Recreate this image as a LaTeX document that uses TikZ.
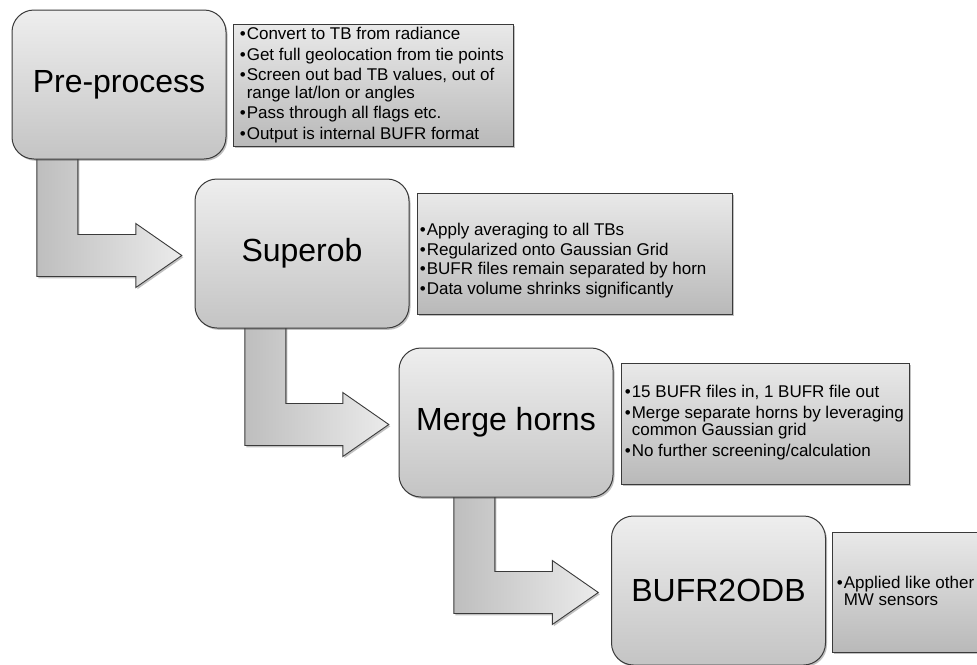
\documentclass[tikz,border=0pt]{standalone}
\usepackage{fontspec}
\setmainfont{Liberation Sans}
\usetikzlibrary{calc,shadows}
\definecolor{edge}{HTML}{3A3A3A}
\definecolor{boxtop}{HTML}{EEEEEE}
\definecolor{boxbot}{HTML}{C4C4C4}
\definecolor{notetop}{HTML}{E9E9E9}
\definecolor{notebot}{HTML}{B9B9B9}
\definecolor{arrl}{HTML}{BEBEBE}
\definecolor{arrr}{HTML}{EBEBEB}
\newcommand\bul{\makebox[7pt][l]{•}}
\tikzset{
  softshadow/.style={drop shadow={shadow xshift=1.5pt,shadow yshift=-1.8pt,opacity=0.35,fill=black!70}},
  stage/.style={draw=edge, line width=1pt, rounded corners=22pt,
    minimum width=214pt, minimum height=149pt, inner sep=0pt,
    top color=boxtop, bottom color=boxbot,
    font=\fontsize{32}{38}\selectfont, softshadow},
  note/.style={draw=edge, line width=0.8pt, inner sep=0pt,
    top color=notetop, bottom color=notebot, softshadow},
  notetext/.style={align=left, inner sep=0pt, anchor=west,
    font=\fontsize{17}{17.5}\selectfont},
  flowarr/.style={draw=edge, line width=0.9pt, left color=arrl, right color=arrr, softshadow}
}
% #1 from node, #2 to node, #3 shaft offset from left edge of #1, #4 gap before #2
\newcommand\flowarrow[4]{%
  \coordinate (#1#2a) at ($(#1.south west)+(#3,-3)$);
  \coordinate (#1#2t) at ($(#2.west)+(-#4,2)$);
  \path[flowarr] (#1#2a) -- ++(41,0)
    -- ($(#1#2a |- #1#2t)+(41,-21)$)
    -- ($(#1#2t)+(-46,-21)$)
    -- ($(#1#2t)+(-46,-32)$)
    -- (#1#2t)
    -- ($(#1#2t)+(-46,32)$)
    -- ($(#1#2t)+(-46,21)$)
    -- ($(#1#2a |- #1#2t)+(0,21)$) -- cycle;}
\begin{document}
\begin{tikzpicture}[x=1pt,y=-1pt]
\useasboundingbox (0,0) rectangle (977,664);
\clip (0,0) rectangle (977,664);
\fill[white] (0,0) rectangle (977,664);

\path (119,84.5) coordinate (c1) (302,253.5) coordinate (c2)
      (506,422.5) coordinate (c3) (718.5,590.5) coordinate (c4);

% placeholders used to route the arrows
\node[minimum width=214pt, minimum height=149pt, inner sep=0pt] (b1) at (c1) {};
\node[minimum width=214pt, minimum height=149pt, inner sep=0pt] (b2) at (c2) {};
\node[minimum width=214pt, minimum height=149pt, inner sep=0pt] (b3) at (c3) {};
\node[minimum width=214pt, minimum height=149pt, inner sep=0pt] (b4) at (c4) {};

\flowarrow{b1}{b2}{25}{13}
\flowarrow{b2}{b3}{50}{10}
\flowarrow{b3}{b4}{55}{13}

\node[stage] (s1) at (c1) {Pre-process};
\node[stage] (s2) at (c2) {Superob};
\node[stage] (s3) at (c3) {Merge horns};
\node[stage] (s4) at (c4) {BUFR2ODB};

% note boxes
\node[note, minimum width=280pt, minimum height=122pt] (t1) at (373,85) {};
\node[note, minimum width=315pt, minimum height=121pt] (t2) at (574.5,253.5) {};
\node[note, minimum width=288pt, minimum height=121pt] (t3) at (765,423.5) {};
\node[note, minimum width=180pt, minimum height=120pt] (t4) at (922,592) {};

\node[notetext] (x1) at ($(t1.west)+(7,0)$) {%
  \bul Convert to TB from radiance\\[3pt]
  \bul Get full geolocation from tie points\\[3pt]
  \bul Screen out bad TB values, out of\\
  \hspace*{7pt}range lat/lon or angles\\[3pt]
  \bul Pass through all flags etc.\\[3pt]
  \bul Output is internal BUFR format};
\node[notetext] (x2) at ($(t2.west)+(3,7)$) {%
  \bul Apply averaging to all TBs\\[2pt]
  \bul Regularized onto Gaussian Grid\\[2pt]
  \bul BUFR files remain separated by horn\\[2pt]
  \bul Data volume shrinks significantly};
\node[notetext] (x3) at ($(t3.west)+(4,-1)$) {%
  \bul 15 BUFR files in, 1 BUFR file out\\[3pt]
  \bul Merge separate horns by leveraging\\
  \hspace*{7pt}common Gaussian grid\\[3pt]
  \bul No further screening/calculation};
\node[notetext] (x4) at ($(t4.west)+(5,-1)$) {%
  \bul Applied like other\\
  \hspace*{7pt}MW sensors};
\end{tikzpicture}
\end{document}
